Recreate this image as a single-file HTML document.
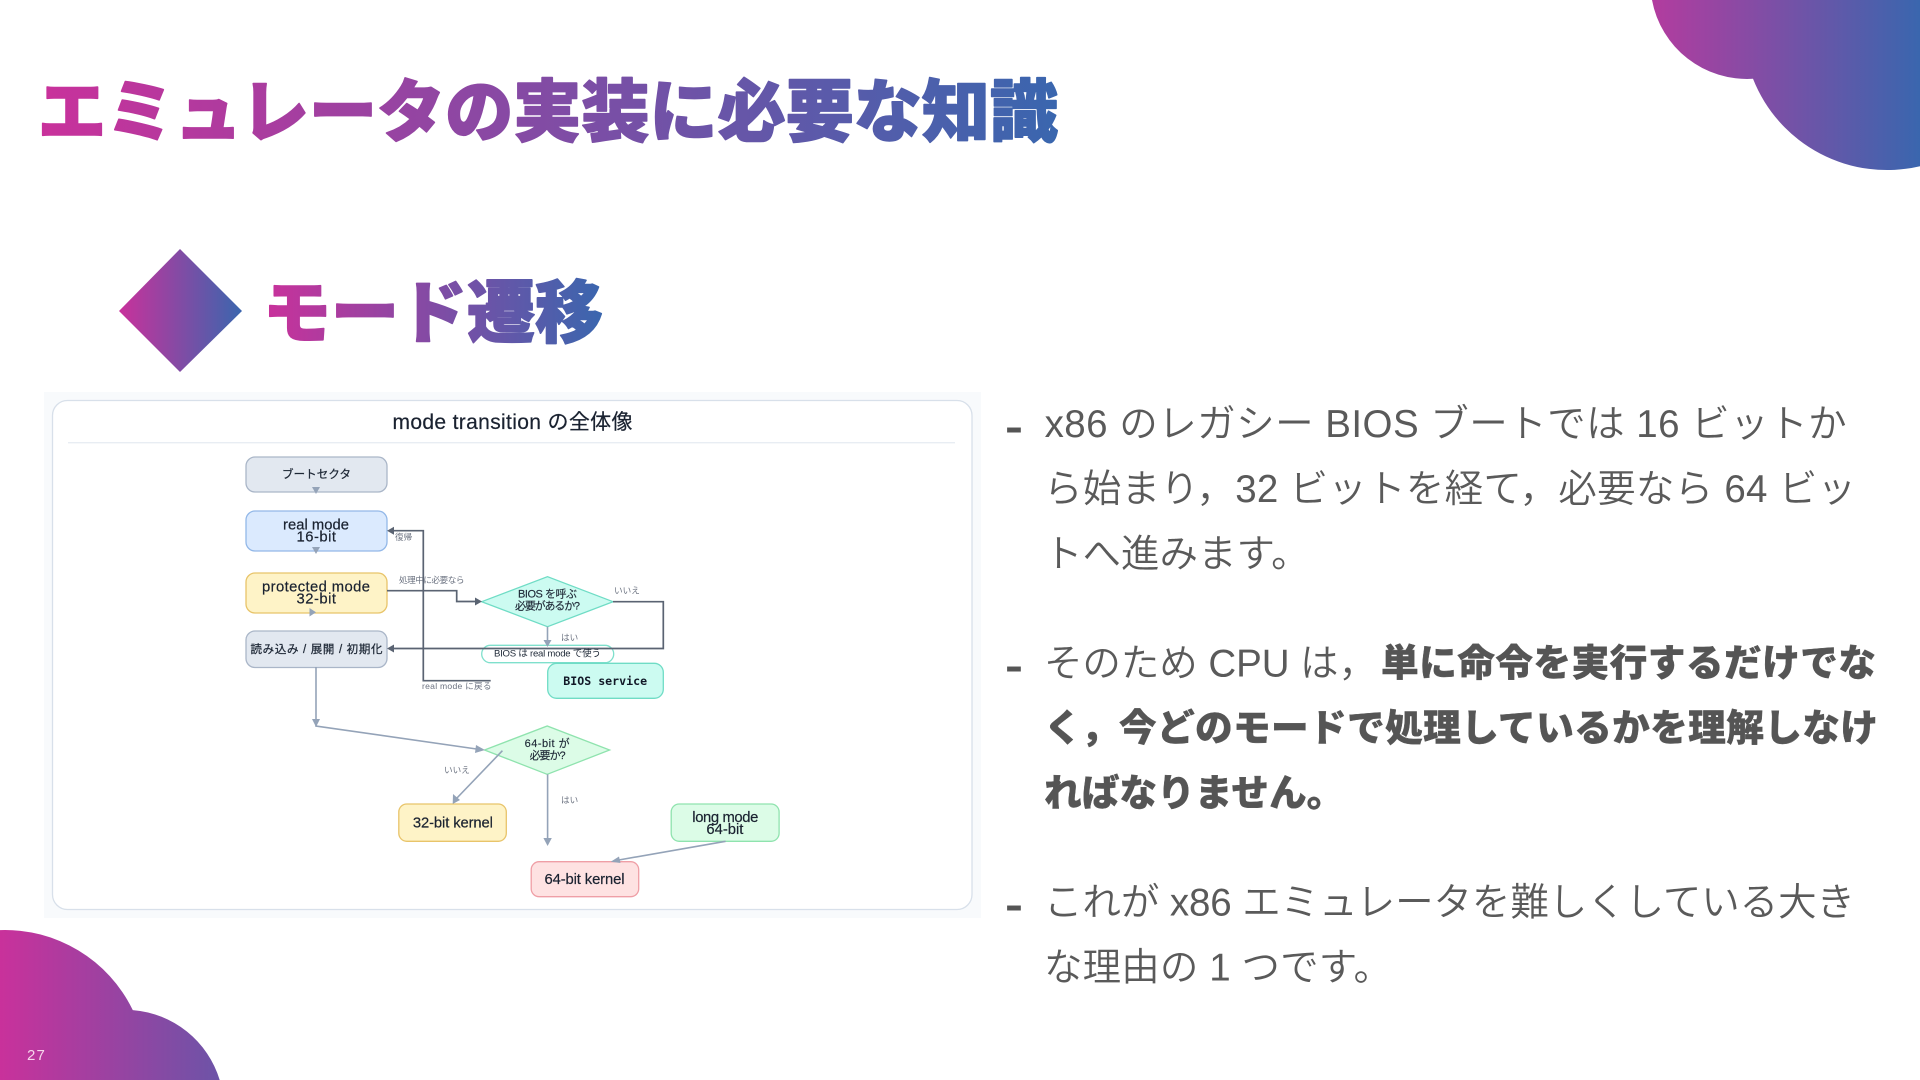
<!DOCTYPE html>
<html lang="ja">
<head>
<meta charset="utf-8">
<title>エミュレータの実装に必要な知識</title>
<style>
html,body{margin:0;padding:0;background:#fff;width:1920px;height:1080px;overflow:hidden}
svg{display:block}
text{font-family:"Liberation Sans","Noto Sans CJK JP",sans-serif;white-space:pre}
.b{font-family:"Liberation Sans","Noto Sans CJK JP",sans-serif;font-size:38.5px;fill:#5a5a5a;font-weight:350}
.bb{font-family:"Noto Sans CJK JP",sans-serif;font-size:37.7px;fill:#555;font-weight:900;stroke:#555;stroke-width:.4px}
.dash{font-family:"Liberation Sans",sans-serif;font-size:42px;font-weight:700;fill:#555}
.h{font-family:"Noto Sans CJK JP",sans-serif;font-weight:900;font-size:68px;stroke-width:1.6px;stroke-linejoin:round}
.n{fill:#1a2230;font-size:14.8px;stroke:#1a2230;stroke-width:.2px}
.s{fill:#1f2937;font-size:11.5px;stroke:#1f2937;stroke-width:.25px}
.d{fill:#1f2937;font-size:11px;stroke:#1f2937;stroke-width:.15px}
.l{fill:#6b7280;font-size:8.6px}
.m{font-family:"DejaVu Sans Mono","Liberation Mono",monospace;font-weight:700;font-size:11.6px;fill:#111827}
.dk{fill:none;stroke:#5a6372;stroke-width:1.7}
.gr{fill:none;stroke:#94a3b8;stroke-width:1.6}
.ad{fill:#5a6372}
.ag{fill:#94a3b8}
</style>
</head>
<body>
<svg xmlns="http://www.w3.org/2000/svg" width="1920" height="1080" viewBox="0 0 1920 1080">
<defs>
<linearGradient id="gt" gradientUnits="userSpaceOnUse" x1="40" y1="0" x2="1056" y2="0"><stop offset="0" stop-color="#c9319b"/><stop offset="1" stop-color="#3a66ae"/></linearGradient>
<linearGradient id="gs" gradientUnits="userSpaceOnUse" x1="265" y1="0" x2="602" y2="0"><stop offset="0" stop-color="#c9319b"/><stop offset="1" stop-color="#3a66ae"/></linearGradient>
<linearGradient id="gd" gradientUnits="userSpaceOnUse" x1="119" y1="0" x2="242" y2="0"><stop offset="0" stop-color="#c9319b"/><stop offset="1" stop-color="#3a66ae"/></linearGradient>
<linearGradient id="gtr" gradientUnits="userSpaceOnUse" x1="1640" y1="0" x2="1920" y2="0"><stop offset="0" stop-color="#b83a9e"/><stop offset="1" stop-color="#3a66ae"/></linearGradient>
<linearGradient id="gbl" gradientUnits="userSpaceOnUse" x1="0" y1="0" x2="340" y2="0"><stop offset="0" stop-color="#c9319b"/><stop offset="1" stop-color="#3a66ae"/></linearGradient>
</defs>

<!-- corner clouds -->
<path fill="url(#gtr)" d="M1652 0A96.6 96.6 0 0 0 1753 78.8A144 144 0 0 0 1920 166.2V0Z"/>
<path fill="url(#gbl)" d="M0 1080V930.1A142 142 0 0 1 132.8 1010.1A99 99 0 0 1 219.7 1080Z"/>
<text x="27" y="1060" font-size="15" letter-spacing="1.2" fill="#f6d6ec">27</text>

<!-- headings -->
<text class="h" x="38" y="136" textLength="1020" lengthAdjust="spacing" fill="url(#gt)" stroke="url(#gt)">エミュレータの実装に必要な知識</text>
<polygon points="180,249 242,311 180,372 119,311" fill="url(#gd)"/>
<text class="h" x="263" y="337" textLength="340" lengthAdjust="spacing" fill="url(#gs)" stroke="url(#gs)">モード遷移</text>

<!-- diagram panel -->
<rect x="44" y="392" width="937" height="526" fill="#f8fafc"/>
<rect x="52.5" y="400.5" width="919.5" height="509" rx="15" fill="#fff" stroke="#d8e0ea" stroke-width="1.3"/>
<line x1="68" y1="442.7" x2="955" y2="442.7" stroke="#e8edf3" stroke-width="1.3"/>
<text x="392.5" y="429" font-size="21" fill="#1a2230" stroke="#1a2230" stroke-width=".2" textLength="240" lengthAdjust="spacing">mode transition の全体像</text>

<!-- nodes -->
<rect x="246" y="457" width="141" height="35" rx="9" fill="#e2e8f0" stroke="#aab6c8" stroke-width="1.3"/>
<rect x="246" y="511" width="141" height="40" rx="9" fill="#dbeafe" stroke="#93b8e8" stroke-width="1.3"/>
<rect x="246" y="573" width="141" height="40" rx="9" fill="#fef3c7" stroke="#e8c46a" stroke-width="1.3"/>
<rect x="246" y="631" width="141" height="36.5" rx="9" fill="#e2e8f0" stroke="#aab6c8" stroke-width="1.3"/>
<polygon points="481.7,601.7 547.5,576.7 613,601.7 547.5,626.7" fill="#ccfbf1" stroke="#6fdcc5" stroke-width="1.3"/>
<rect x="481.7" y="645.3" width="132" height="17.4" rx="8.7" fill="#fff" stroke="#7fe0cc" stroke-width="1.3"/>
<rect x="547.7" y="663.3" width="115.6" height="35" rx="9" fill="#ccfbf1" stroke="#6fdcc5" stroke-width="1.3"/>
<polygon points="484.5,750 547.2,726 609.6,750 547.2,774.3" fill="#dcfce7" stroke="#8fe3ae" stroke-width="1.3"/>
<rect x="398.8" y="804" width="107.5" height="37.3" rx="8" fill="#fef3c7" stroke="#e8c46a" stroke-width="1.3"/>
<rect x="671.2" y="804" width="107.9" height="37.3" rx="8" fill="#dcfce7" stroke="#8fe3ae" stroke-width="1.3"/>
<rect x="531.2" y="861.7" width="107.5" height="35" rx="8" fill="#fee2e2" stroke="#ef9fa6" stroke-width="1.3"/>

<!-- connectors -->
<path class="gr" d="M547.5 626.7V642"/>
<polygon class="ag" points="543.5,640 551.5,640 547.5,647"/>
<path class="gr" d="M316 667V726L480 749.5"/>
<polygon class="ag" points="312,719 320,719 316,727"/>
<polygon class="ag" points="476,745 485,750 475,753"/>
<path class="gr" d="M502.4 750.7L456 799"/>
<polygon class="ag" points="452.7,804 453,794 460,800"/>
<path class="gr" d="M547.6 774.3V840"/>
<polygon class="ag" points="543.4,838 551.8,838 547.6,846"/>
<path class="gr" d="M725.6 841.3L616 860.5"/>
<polygon class="ag" points="610.7,861.7 619,856.5 620.5,863"/>
<polygon class="ag" points="312,487 320,487 316,494"/>
<polygon class="ag" points="312,547 320,547 316,554"/>
<polygon class="ag" points="309.5,608 316,612.3 309.5,616.5"/>

<path class="dk" d="M387 590.7H456.7V601.5H476"/>
<polygon class="ad" points="482,601.5 475,597.5 475,605.5"/>
<path class="dk" d="M490.7 680.7H423.3V530.7H392"/>
<polygon class="ad" points="387,530.7 394,526.7 394,534.7"/>
<path class="dk" d="M613 601.7H663.3V648.5H392"/>
<polygon class="ad" points="387,648.5 394,644.5 394,652.5"/>

<!-- node text -->
<text class="s" x="282" y="478" textLength="69" lengthAdjust="spacing">ブートセクタ</text>
<text class="n" x="283" y="529.5" textLength="66" lengthAdjust="spacing">real mode</text>
<text class="n" x="296.5" y="541.7" textLength="39.5" lengthAdjust="spacing">16-bit</text>
<text class="n" x="262" y="591.5" textLength="108" lengthAdjust="spacing">protected mode</text>
<text class="n" x="296.5" y="603.7" textLength="39.5" lengthAdjust="spacing">32-bit</text>
<text class="s" x="250.5" y="653" textLength="132" lengthAdjust="spacing">読み込み / 展開 / 初期化</text>
<text class="d" x="518" y="597.5" textLength="59" lengthAdjust="spacing">BIOS を呼ぶ</text>
<text class="d" x="515" y="609.5" textLength="65" lengthAdjust="spacing">必要があるか?</text>
<text x="494" y="656.5" font-size="9.6" fill="#1f2937" textLength="107" lengthAdjust="spacing">BIOS は real mode で使う</text>
<text class="m" x="563.3" y="685">BIOS service</text>
<text class="d" x="524.6" y="747" textLength="45" lengthAdjust="spacing">64-bit が</text>
<text class="d" x="529.6" y="759" textLength="36" lengthAdjust="spacing">必要か?</text>
<text class="n" x="412.9" y="827.5" textLength="80" lengthAdjust="spacing">32-bit kernel</text>
<text class="n" x="544.5" y="884" textLength="80" lengthAdjust="spacing">64-bit kernel</text>
<text class="n" x="692.3" y="822" textLength="66" lengthAdjust="spacing">long mode</text>
<text class="n" x="706.4" y="834" textLength="37" lengthAdjust="spacing">64-bit</text>

<!-- edge labels -->
<text class="l" x="395" y="540">復帰</text>
<text class="l" x="399" y="583" textLength="65.5" lengthAdjust="spacing">処理中に必要なら</text>
<text class="l" x="614" y="593.5">いいえ</text>
<text class="l" x="561" y="640.5">はい</text>
<text class="l" x="422" y="689" textLength="69.5" lengthAdjust="spacing" font-size="9">real mode に戻る</text>
<text class="l" x="444" y="773">いいえ</text>
<text class="l" x="561" y="803">はい</text>

<!-- body text -->
<text class="dash" x="1005" y="441" textLength="18" lengthAdjust="spacingAndGlyphs">-</text>
<text class="b" x="1044.6" y="437" textLength="802" lengthAdjust="spacing">x86 のレガシー BIOS ブートでは 16 ビットか</text>
<text class="b" x="1044" y="502" textLength="812" lengthAdjust="spacing">ら始まり，32 ビットを経て，必要なら 64 ビッ</text>
<text class="b" x="1044" y="567">トへ進みます。</text>

<text class="dash" x="1005" y="680" textLength="18" lengthAdjust="spacingAndGlyphs">-</text>
<text class="b" x="1044" y="676.5" textLength="333" lengthAdjust="spacing">そのため CPU は，</text>
<text class="bb" x="1381" y="676" textLength="495" lengthAdjust="spacing">単に命令を実行するだけでな</text>
<text class="bb" x="1044" y="741" textLength="834" lengthAdjust="spacing">く，今どのモードで処理しているかを理解しなけ</text>
<text class="bb" x="1044" y="806">ればなりません。</text>

<text class="dash" x="1005" y="919" textLength="18" lengthAdjust="spacingAndGlyphs">-</text>
<text class="b" x="1044" y="915.5" textLength="811" lengthAdjust="spacing">これが x86 エミュレータを難しくしている大き</text>
<text class="b" x="1044" y="980.5" textLength="348" lengthAdjust="spacing">な理由の 1 つです。</text>
</svg>
</body>
</html>
